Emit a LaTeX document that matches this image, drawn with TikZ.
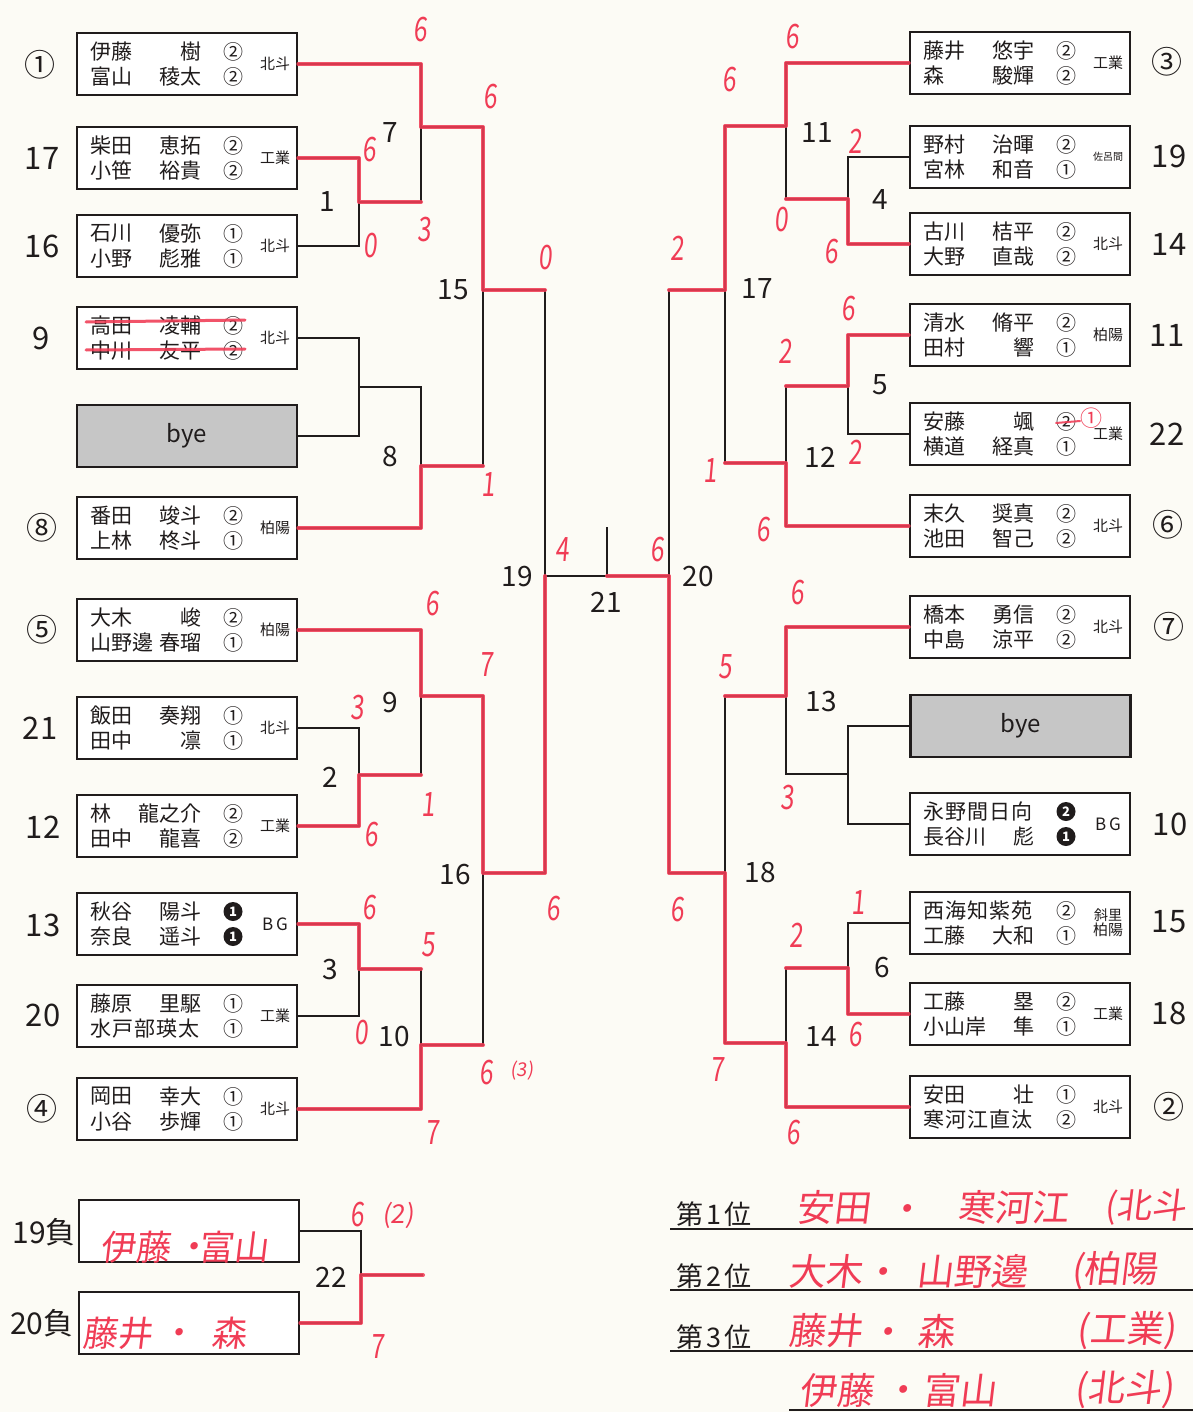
\documentclass[tikz,border=0pt]{standalone}
\usepackage{fontspec}
\setmainfont{Noto Sans CJK JP}
\newfontfamily\handfont[FakeSlant=0.12]{Noto Sans CJK JP}
\usetikzlibrary{calc}
\definecolor{ink}{RGB}{32,28,28}
\definecolor{pen}{RGB}{240,60,85}
\definecolor{paper}{RGB}{252,251,245}
\definecolor{byegray}{RGB}{198,198,198}
\newcommand\fs[1]{\fontsize{#1}{#1}\selectfont}
\newcommand\twom[2]{\gdef\mA{#1}\gdef\mB{#2}}
\newcommand\hw[1]{\scalebox{0.82}[1.12]{#1}}
\tikzset{
 tbox/.style={draw=ink, line width=2.6pt, fill=white, minimum width=220pt, minimum height=62pt, inner sep=0},
 byebox/.style={tbox, fill=byegray, font=\fs{24}, text=ink},
 nm/.style={inner sep=0, font=\fs{21}, text=ink},
 mk/.style={inner sep=0, font=\fs{20}, text=ink},
 sch/.style={inner sep=0, font=\fs{15}, text=ink, align=center},
 seed/.style={inner sep=0, font=\fs{31}, text=ink},
 mlab/.style={inner sep=0, font=\fs{28}, text=ink},
 wire/.style={draw=ink, line width=2.3pt},
 win/.style={draw=pen, line width=4pt, line cap=round, line join=round, opacity=0.88},
 score/.style={inner sep=0, text=pen, font=\handfont\fs{30}},
 hand/.style={inner sep=0, text=pen, font=\handfont\fs{37}},
 blk/.style={circle, fill=ink, text=white, inner sep=0, minimum size=19pt, font=\fs{13}\bfseries},
 rank/.style={inner sep=0, font=\fs{27}, text=ink},
}
\newcommand\team[9]{%
 \twom#8%
 \node[tbox] (#1) at ({#2+110},{#3+31}) {};
 \node[nm,anchor=west] (#1-a) at ({#2+13},{#3+18.5}) {#4};
 \node[nm,anchor=east] (#1-b) at ({#2+125},{#3+18.5}) {#5};
 \node[nm,anchor=west] (#1-c) at ({#2+13},{#3+43.5}) {#6};
 \node[nm,anchor=east] (#1-d) at ({#2+125},{#3+43.5}) {#7};
 \node[mk] (#1-e) at ({#2+156},{#3+18.5}) {\mA};
 \node[mk] (#1-f) at ({#2+156},{#3+43.5}) {\mB};
 \node[sch] (#1-g) at ({#2+198},{#3+31}) {#9};
}
\begin{document}
\begin{tikzpicture}[x=1pt,y=-1pt]
\useasboundingbox (0,0) rectangle (1193,1412);
\fill[paper] (0,0) rectangle (1193,1412);

% ---------- left teams ----------
\team{L1}{77}{33}{伊藤}{樹}{富山}{稜太}{{②}{②}}{北斗}
\team{L17}{77}{127}{柴田}{恵拓}{小笹}{裕貴}{{②}{②}}{工業}
\team{L16}{77}{215}{石川}{優弥}{小野}{彪雅}{{①}{①}}{北斗}
\team{L9}{77}{307}{高田}{凌輔}{中川}{友平}{{②}{②}}{北斗}
\node[byebox] (bye1) at (187,436) {bye};
\team{L8}{77}{497}{番田}{竣斗}{上林}{柊斗}{{②}{①}}{柏陽}
\team{L5}{77}{599}{大木}{峻}{山野邊}{春瑠}{{②}{①}}{柏陽}
\team{L21}{77}{697}{飯田}{奏翔}{田中}{凛}{{①}{①}}{北斗}
\team{L12}{77}{795}{林}{龍之介}{田中}{龍喜}{{②}{②}}{工業}
\team{L13}{77}{893}{秋谷}{陽斗}{奈良}{遥斗}{{}{}}{\fs{17}B\,G}
\team{L20}{77}{985}{藤原}{里駆}{\addfontfeature{LetterSpace=5}水戸部瑛太}{}{{①}{①}}{工業}
\team{L4}{77}{1078}{岡田}{幸大}{小谷}{歩輝}{{①}{①}}{北斗}
\node[blk] (bk1) at (233,911.5) {1};
\node[blk] (bk2) at (233,936.5) {1};

% ---------- right teams ----------
\team{R3}{910}{32}{藤井}{悠宇}{森}{駿輝}{{②}{②}}{工業}
\team{R19}{910}{126}{野村}{治暉}{宮林}{和音}{{②}{①}}{\fs{10}佐呂間}
\team{R14}{910}{213}{古川}{桔平}{大野}{直哉}{{②}{②}}{北斗}
\team{R11}{910}{304}{清水}{脩平}{田村}{響}{{②}{①}}{柏陽}
\team{R22}{910}{403}{安藤}{颯}{横道}{経真}{{②}{①}}{工業}
\team{R6}{910}{495}{末久}{奨真}{池田}{智己}{{②}{②}}{北斗}
\team{R7}{910}{596}{橋本}{勇信}{中島}{涼平}{{②}{②}}{北斗}
\node[byebox] (bye2) at (1020.5,726) {bye};
\team{R10}{910}{793}{\addfontfeature{LetterSpace=5}永野間日向}{}{長谷川}{彪}{{}{}}{\fs{17}B\,G}
\team{R15}{910}{892}{\addfontfeature{LetterSpace=5}西海知紫苑}{}{工藤}{大和}{{②}{①}}{\fontsize{14}{20}\selectfont 斜里\\柏陽}
\team{R18}{910}{983}{工藤}{塁}{小山岸}{隼}{{②}{①}}{工業}
\team{R2}{910}{1076}{安田}{壮}{\addfontfeature{LetterSpace=5}寒河江直汰}{}{{①}{②}}{北斗}
\node[blk] (bk3) at (1066,811.5) {2};
\node[blk] (bk4) at (1066,836.5) {1};

% ---------- seeds ----------
\node[seed] (sdL1) at (40,65) {①};
\node[seed] (sdL17) at (42,158) {17};
\node[seed] (sdL16) at (42,246) {16};
\node[seed] (sdL9) at (41,338) {9};
\node[seed] (sdL8) at (42,528) {⑧};
\node[seed] (sdL5) at (42,630) {⑤};
\node[seed] (sdL21) at (40,728) {21};
\node[seed] (sdL12) at (43,827) {12};
\node[seed] (sdL13) at (43,925) {13};
\node[seed] (sdL20) at (43,1015) {20};
\node[seed] (sdL4) at (42,1109) {④};
\node[seed] (sdR3) at (1167,62) {③};
\node[seed] (sdR19) at (1169,156) {19};
\node[seed] (sdR14) at (1169,244) {14};
\node[seed] (sdR11) at (1167,335) {11};
\node[seed] (sdR22) at (1167,434) {22};
\node[seed] (sdR6) at (1168,525) {⑥};
\node[seed] (sdR7) at (1169,627) {⑦};
\node[seed] (sdR10) at (1170,824) {10};
\node[seed] (sdR15) at (1169,922) {15};
\node[seed] (sdR18) at (1169,1013) {18};
\node[seed] (sdR2) at (1169,1107) {②};

% ---------- joints ----------
\coordinate (m1) at (359,202);
\coordinate (m8a) at (359,387);
\coordinate (m7) at (421,127);
\coordinate (m8) at (421,466);
\coordinate (m15) at (483,290);
\coordinate (m2) at (359,775);
\coordinate (m9) at (421,696);
\coordinate (m3) at (359,969);
\coordinate (m10) at (421,1045);
\coordinate (m16) at (483,873);
\coordinate (m19) at (545,576);
\coordinate (m4) at (848,199);
\coordinate (m11) at (786,126);
\coordinate (m5) at (848,386);
\coordinate (m12) at (786,463);
\coordinate (m17) at (725,290);
\coordinate (m13a) at (848,774);
\coordinate (m13) at (786,696);
\coordinate (m6) at (848,968);
\coordinate (m14) at (786,1043);
\coordinate (m18) at (725,873);
\coordinate (m20) at (669,576);
\coordinate (t21) at (607,576);
\coordinate (t21top) at (607,527);

% ---------- wires ----------
\draw[wire] (L17.east) -| (m1) (L16.east) -| (m1);
\draw[wire] (L9.east) -| (m8a) (bye1.east) -| (m8a);
\draw[wire] (L1.east) -| (m7) (m1) -| (m7);
\draw[wire] (m8a) -| (m8) (L8.east) -| (m8);
\draw[wire] (m7) -| (m15) (m8) -| (m15);
\draw[wire] (L21.east) -| (m2) (L12.east) -| (m2);
\draw[wire] (L5.east) -| (m9) (m2) -| (m9);
\draw[wire] (L13.east) -| (m3) (L20.east) -| (m3);
\draw[wire] (m3) -| (m10) (L4.east) -| (m10);
\draw[wire] (m9) -| (m16) (m10) -| (m16);
\draw[wire] (m15) -| (m19) (m16) -| (m19);
\draw[wire] (m19) -- (m20);
\draw[wire] (t21) -- (t21top);
\draw[wire] (R19.west) -| (m4) (R14.west) -| (m4);
\draw[wire] (R3.west) -| (m11) (m4) -| (m11);
\draw[wire] (R11.west) -| (m5) (R22.west) -| (m5);
\draw[wire] (m5) -| (m12) (R6.west) -| (m12);
\draw[wire] (m11) -| (m17) (m12) -| (m17);
\draw[wire] (bye2.west) -| (m13a) (R10.west) -| (m13a);
\draw[wire] (R7.west) -| (m13) (m13a) -| (m13);
\draw[wire] (R15.west) -| (m6) (R18.west) -| (m6);
\draw[wire] (m6) -| (m14) (R2.west) -| (m14);
\draw[wire] (m13) -| (m18) (m14) -| (m18);
\draw[wire] (m17) -| (m20) (m18) -| (m20);

% ---------- match labels ----------
\node[mlab] (ml7) at (390,133) {7};
\node[mlab] (ml1) at (327,202) {1};
\node[mlab] (ml15) at (453,290) {15};
\node[mlab] (ml8) at (390,457) {8};
\node[mlab] (ml9) at (390,703) {9};
\node[mlab] (ml2) at (330,777) {2};
\node[mlab] (ml16) at (455,875) {16};
\node[mlab] (ml3) at (330,970) {3};
\node[mlab] (ml10) at (394,1037) {10};
\node[mlab] (ml19) at (517,577) {19};
\node[mlab] (ml21) at (606,602) {21};
\node[mlab] (ml20) at (698,577) {20};
\node[mlab] (ml11) at (817,133) {11};
\node[mlab] (ml4) at (880,200) {4};
\node[mlab] (ml17) at (757,289) {17};
\node[mlab] (ml5) at (880,385) {5};
\node[mlab] (ml12) at (820,457) {12};
\node[mlab] (ml13) at (821,702) {13};
\node[mlab] (ml18) at (760,873) {18};
\node[mlab] (ml6) at (882,968) {6};
\node[mlab] (ml14) at (821,1037) {14};

% ---------- consolation ----------
\node[tbox] (B19) at (189,1231) {};
\node[tbox] (B20) at (189,1323) {};
\node[seed, font=\fs{30}] (lb19) at (44,1232) {19負};
\node[seed, font=\fs{30}] (lb20) at (42,1323) {20負};
\coordinate (m22) at (361,1275);
\coordinate (m22o) at (423,1275);
\draw[wire] (B19.east) -| (m22) (B20.east) -| (m22);
\draw[wire] (m22) -- (m22o);
\node[mlab] (ml22) at (331,1277) {22};

% ---------- ranking ----------
\draw[ink, line width=2.6pt] (670,1229) -- (1193,1229);
\draw[ink, line width=2.6pt] (670,1290) -- (1193,1290);
\draw[ink, line width=2.6pt] (670,1351) -- (1193,1351);
\draw[ink, line width=2.6pt] (789,1410) -- (1193,1410);
\node[rank, anchor=west] (rk1) at (676,1214) {第\hspace{3pt}1\hspace{3pt}位};
\node[rank, anchor=west] (rk2) at (676,1276) {第\hspace{3pt}2\hspace{3pt}位};
\node[rank, anchor=west] (rk3) at (676,1337) {第\hspace{3pt}3\hspace{3pt}位};

% ---------- red winner paths ----------
\draw[win] (L1.east) -| (m7) -| (m15) -- (m15 -| m19);
\draw[win] (L17.east) -| (m1) -- (m1 -| m7);
\draw[win] (L8.east) -| (m8) -- (m8 -| m15);
\draw[win] (L5.east) -| (m9) -| (m16) -| (m19);
\draw[win] (L12.east) -| (m2) -- (m2 -| m9);
\draw[win] (L13.east) -| (m3) -- (m3 -| m10);
\draw[win] (L4.east) -| (m10) -- (m10 -| m16);
\draw[win] (B20.east) -| (m22) -- (m22o);
\draw[win] (R3.west) -| (m11) -| (m17) -- (m17 -| m20);
\draw[win] (R14.west) -| (m4) -- (m4 -| m11);
\draw[win] (R11.west) -| (m5) -- (m5 -| m12);
\draw[win] (R6.west) -| (m12) -- (m12 -| m17);
\draw[win] (R7.west) -| (m13) -- (m13 -| m18);
\draw[win] (R18.west) -| (m6) -- (m6 -| m14);
\draw[win] (R2.west) -| (m14) -| (m18) -| (m20) -- (t21);
\draw[win, line width=3pt] (86,322) -- (245,320);
\draw[win, line width=3pt] (86,350) -- (245,349);
\draw[win, line width=2pt] (1056,423) -- (1080,421);
\node[inner sep=0, text=pen, font=\fs{22}] (redc) at (1091,418) {①};

% ---------- red scores ----------
\node[score] (s1) at (420,30) {\hw{6}};
\node[score] (s2) at (490,97) {\hw{6}};
\node[score] (s3) at (369,150) {\hw{6}};
\node[score] (s4) at (424,230) {\hw{3}};
\node[score] (s5) at (370,246) {\hw{0}};
\node[score] (s6) at (545,258) {\hw{0}};
\node[score] (s7) at (488,485) {\hw{1}};
\node[score] (s8) at (562,550) {\hw{4}};
\node[score] (s9) at (432,604) {\hw{6}};
\node[score] (s10) at (486,665) {\hw{7}};
\node[score] (s11) at (357,708) {\hw{3}};
\node[score] (s12) at (428,805) {\hw{1}};
\node[score] (s13) at (371,835) {\hw{6}};
\node[score] (s14) at (553,909) {\hw{6}};
\node[score] (s15) at (369,908) {\hw{6}};
\node[score] (s16) at (428,945) {\hw{5}};
\node[score] (s17) at (361,1033) {\hw{0}};
\node[score] (s18) at (486,1073) {\hw{6}};
\node[score, font=\handfont\fs{19}] (s18b) at (522,1071) {(3)};
\node[score] (s19) at (432,1133) {\hw{7}};
\node[score] (s20) at (357,1215) {\hw{6}};
\node[score, font=\handfont\fs{26}] (s20b) at (398,1215) {(2)};
\node[score] (s21) at (377,1347) {\hw{7}};
\node[score] (s22) at (792,37) {\hw{6}};
\node[score] (s23) at (729,80) {\hw{6}};
\node[score] (s24) at (855,141) {\hw{2}};
\node[score] (s25) at (781,220) {\hw{0}};
\node[score] (s26) at (831,252) {\hw{6}};
\node[score] (s27) at (677,248) {\hw{2}};
\node[score] (s28) at (848,309) {\hw{6}};
\node[score] (s29) at (785,351) {\hw{2}};
\node[score] (s30) at (855,452) {\hw{2}};
\node[score] (s31) at (710,471) {\hw{1}};
\node[score] (s32) at (763,530) {\hw{6}};
\node[score] (s33) at (657,550) {\hw{6}};
\node[score] (s34) at (797,593) {\hw{6}};
\node[score] (s35) at (725,667) {\hw{5}};
\node[score] (s36) at (787,798) {\hw{3}};
\node[score] (s37) at (677,910) {\hw{6}};
\node[score] (s38) at (858,903) {\hw{1}};
\node[score] (s39) at (796,935) {\hw{2}};
\node[score] (s40) at (855,1035) {\hw{6}};
\node[score] (s41) at (717,1070) {\hw{7}};
\node[score] (s42) at (793,1133) {\hw{6}};

% ---------- red handwriting ----------
\node[hand, font=\handfont\fs{35}] (h1) at (135,1247) {伊藤};
\node[hand, font=\handfont\fs{35}] (h2) at (193,1251) {・};
\node[hand, font=\handfont\fs{35}] (h3) at (233,1247) {富山};
\node[hand, font=\handfont\fs{35}] (h4) at (117,1333) {藤井};
\node[hand, font=\handfont\fs{35}] (h5) at (178,1337) {・};
\node[hand, font=\handfont\fs{35}] (h6) at (229,1333) {森};
\node[hand] (r1a) at (833,1207) {安田};
\node[hand] (r1b) at (906,1213) {・};
\node[hand] (r1c) at (1013,1207) {寒河江};
\node[hand, anchor=west, font=\handfont\fs{35}] (r1d) at (1104,1207) {(北斗};
\node[hand] (r2a) at (825,1271) {大木};
\node[hand] (r2b) at (882,1276) {・};
\node[hand] (r2c) at (972,1271) {山野邊};
\node[hand, anchor=west] (r2d) at (1071,1271) {(柏陽};
\node[hand] (r3a) at (825,1331) {藤井};
\node[hand] (r3b) at (887,1336) {・};
\node[hand] (r3c) at (936,1331) {森};
\node[hand] (r3d) at (1126,1331) {(工業)};
\node[hand] (r4a) at (836,1390) {伊藤};
\node[hand] (r4b) at (902,1394) {・};
\node[hand] (r4c) at (959,1390) {富山};
\node[hand] (r4d) at (1124,1390) {(北斗)};
\end{tikzpicture}
\end{document}
